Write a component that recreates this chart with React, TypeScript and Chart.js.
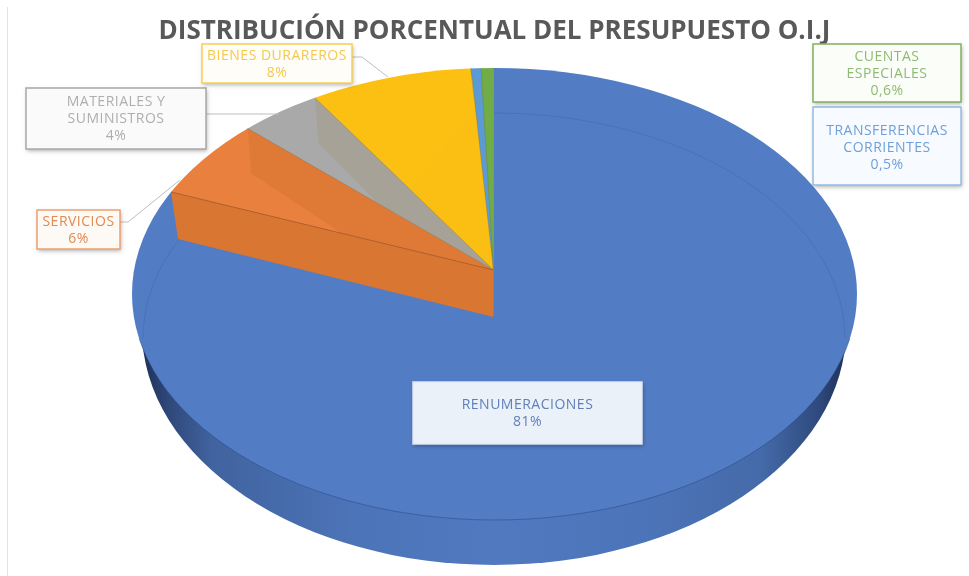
import React, { useEffect, useRef } from "react";
import { Chart, registerables } from "chart.js";

Chart.register(...registerables);

const titleText = "DISTRIBUCIÓN PORCENTUAL DEL PRESUPUESTO O.I.J";
const categories = ["RENUMERACIONES", "SERVICIOS", "MATERIALES Y SUMINISTROS", "BIENES DURAREROS", "TRANSFERENCIAS CORRIENTES", "CUENTAS ESPECIALES"];
const values = [81, 6, 4, 8, 0.5, 0.6];
const percentLabels = ["81%", "6%", "4%", "8%", "0,5%", "0,6%"];
const sliceColors = ["#527cc4", "#e9803d", "#a9a9a9", "#fcc012", "#5b9bd5", "#70ad47"];

const labelLines = [
  ["RENUMERACIONES"],
  ["SERVICIOS"],
  ["MATERIALES Y", "SUMINISTROS"],
  ["BIENES DURAREROS"],
  ["TRANSFERENCIAS", "CORRIENTES"],
  ["CUENTAS", "ESPECIALES"],
];
const labelBoxes = [
  { x: 413, y: 382, w: 229, h: 62, fill: "#ebf1f9", border: "#dfe7f3", text: "#5f7fb8", first: 405 },
  { x: 37, y: 210, w: 83, h: 39, fill: "#fdf9f5", border: "#ee9f6c", text: "#e08a55", first: 222 },
  { x: 26, y: 88, w: 180, h: 61, fill: "#fafafa", border: "#a8a8a8", text: "#aeaeae", first: 102 },
  { x: 202, y: 44, w: 150, h: 39, fill: "#fefdf8", border: "#f7d055", text: "#f5c94e", first: 56 },
  { x: 813, y: 107, w: 148, h: 78, fill: "#f7fbff", border: "#93bce6", text: "#6fa0d8", first: 131 },
  { x: 813, y: 44, w: 148, h: 58, fill: "#fafdf8", border: "#82b05f", text: "#8fbb72", first: 57 },
];
const leaderLines = [
  [[120, 222], [128, 222], [180, 180]],
  [[206, 114], [279, 114]],
  [[352, 57], [362, 57], [388, 77]],
];

// Projection of the tilted pie
const APEX = { x: 493.5, y: 270 };
const TOP = { cx: 494.5, cy: 294, rx: 362.5, ry: 226 };
const BASE = { cx: 494, cy: 330, rx: 352, ry: 235 };
const TILT = 0.62;
const ZOOM = 2.5;
const DEPTH = 47;

function rim(angle: number) {
  const dx = Math.cos(angle);
  const dy = Math.sin(angle) * TILT;
  const ox = (APEX.x - TOP.cx) / TOP.rx;
  const oy = (APEX.y - TOP.cy) / TOP.ry;
  const ax = dx / TOP.rx;
  const ay = dy / TOP.ry;
  const a = ax * ax + ay * ay;
  const b = 2 * (ox * ax + oy * ay);
  const c = ox * ox + oy * oy - 1;
  const t = (-b + Math.sqrt(b * b - 4 * a * c)) / (2 * a);
  return { x: APEX.x + t * dx, y: APEX.y + t * dy };
}

function poly(ctx: CanvasRenderingContext2D, pts: { x: number; y: number }[], fill: string) {
  ctx.beginPath();
  pts.forEach((p, i) => (i ? ctx.lineTo(p.x, p.y) : ctx.moveTo(p.x, p.y)));
  ctx.closePath();
  ctx.fillStyle = fill;
  ctx.fill();
}

const pie3d = {
  id: "pie3d",
  beforeDatasetsDraw(chart: any) {
    const ctx = chart.ctx as CanvasRenderingContext2D;
    // page edge rule
    ctx.fillStyle = "#e4e4e4";
    ctx.fillRect(7, 7, 1, 569);
    // side wall
    const g = ctx.createLinearGradient(BASE.cx - BASE.rx, 0, BASE.cx + BASE.rx, 0);
    g.addColorStop(0, "#1e3157");
    g.addColorStop(0.04, "#30497c");
    g.addColorStop(0.1, "#41639f");
    g.addColorStop(0.3, "#4c74b8");
    g.addColorStop(0.5, "#5079c0");
    g.addColorStop(0.72, "#4c74b8");
    g.addColorStop(0.88, "#456aa9");
    g.addColorStop(0.96, "#2f4a7e");
    g.addColorStop(1, "#1e3157");
    ctx.beginPath();
    ctx.ellipse(BASE.cx, BASE.cy, BASE.rx, BASE.ry, 0, 0, Math.PI * 2);
    ctx.fillStyle = g;
    ctx.fill();
  },
  beforeDatasetDraw(chart: any, args: any) {
    const ctx = chart.ctx as CanvasRenderingContext2D;
    const first = args.meta.data[0];
    ctx.save();
    ctx.beginPath();
    ctx.ellipse(TOP.cx, TOP.cy, TOP.rx, TOP.ry, 0, 0, Math.PI * 2);
    ctx.clip();
    ctx.translate(APEX.x, APEX.y);
    ctx.scale(ZOOM, ZOOM * TILT);
    ctx.translate(-first.x, -first.y);
  },
  afterDatasetDraw(chart: any) {
    chart.ctx.restore();
  },
  afterDatasetsDraw(chart: any) {
    const ctx = chart.ctx as CanvasRenderingContext2D;
    const arcs = chart.getDatasetMeta(0).data;
    const facet = (i: number, fill: string) => {
      const start = rim(arcs[i].startAngle);
      const end = rim(arcs[i].endAngle);
      const inner = {
        x: APEX.x + (start.x - APEX.x) * 0.47,
        y: APEX.y + (start.y - APEX.y) * 0.47,
      };
      poly(ctx, [end, { x: end.x + 3.5, y: end.y + 45 }, inner, APEX], fill);
    };
    facet(1, "#df7a36");
    facet(2, "#a6a297");
    facet(3, "#fbbe13");

    // faint outline of the base seen through the top
    ctx.strokeStyle = "rgba(45,75,130,0.2)";
    ctx.lineWidth = 1;
    ctx.beginPath();
    ctx.ellipse(494, 339, 351, 226, 0, -Math.PI / 2, 0);
    ctx.stroke();
    ctx.beginPath();
    ctx.ellipse(494, 339, 351, 226, 0, Math.PI, Math.PI + 0.46);
    ctx.stroke();

    // seam between top and side
    ctx.strokeStyle = "rgba(35,65,125,0.45)";
    ctx.beginPath();
    ctx.ellipse(TOP.cx, TOP.cy, TOP.rx, TOP.ry, 0, 0.2, Math.PI - 0.2);
    ctx.stroke();

    // cut wall in front of the services slice
    const corner = rim(arcs[1].startAngle);
    poly(ctx, [APEX, corner, { x: corner.x + 7, y: corner.y + DEPTH }, { x: APEX.x, y: APEX.y + DEPTH }], "#d97632");
    ctx.strokeStyle = "rgba(165,90,40,0.8)";
    ctx.beginPath();
    ctx.moveTo(corner.x, corner.y);
    ctx.lineTo(APEX.x, APEX.y);
    ctx.stroke();
    for (let i = 2; i <= 5; i++) {
      const p = rim(arcs[i].startAngle);
      ctx.strokeStyle = "rgba(120,110,70,0.35)";
      ctx.beginPath();
      ctx.moveTo(p.x, p.y);
      ctx.lineTo(APEX.x, APEX.y);
      ctx.stroke();
    }

    // leader lines
    ctx.strokeStyle = "#bdbdbd";
    ctx.lineWidth = 1;
    leaderLines.forEach((line) => {
      ctx.beginPath();
      line.forEach(([x, y], i) => (i ? ctx.lineTo(x, y) : ctx.moveTo(x, y)));
      ctx.stroke();
    });

    // callouts
    categories.forEach((_, i) => {
      const b = labelBoxes[i];
      ctx.save();
      ctx.shadowColor = "rgba(0,0,0,0.3)";
      ctx.shadowBlur = 4;
      ctx.shadowOffsetX = 1;
      ctx.shadowOffsetY = 2;
      ctx.fillStyle = b.fill;
      ctx.fillRect(b.x, b.y, b.w, b.h);
      ctx.restore();
      ctx.strokeStyle = b.border;
      ctx.lineWidth = 1.5;
      ctx.strokeRect(b.x, b.y, b.w, b.h);
      ctx.save();
      ctx.fillStyle = b.text;
      ctx.font = '500 14px "Open Sans"';
      (ctx as any).letterSpacing = "0.5px";
      ctx.textAlign = "center";
      ctx.textBaseline = "middle";
      const cx = b.x + b.w / 2;
      const lines = [...labelLines[i], percentLabels[i]];
      lines.forEach((t, j) => ctx.fillText(t, cx, b.first + j * 17));
      ctx.restore();
    });
  },
};

export default function App() {
  const ref = useRef<HTMLCanvasElement>(null);
  useEffect(() => {
    const chart = new Chart(ref.current!, {
      type: "pie",
      data: {
        labels: categories,
        datasets: [
          {
            data: values,
            backgroundColor: sliceColors,
            borderColor: sliceColors,
            borderWidth: 0.4,
            clip: false,
          } as any,
        ],
      },
      options: {
        responsive: false,
        animation: false,
        layout: { padding: { left: 20 } },
        plugins: {
          legend: { display: false },
          tooltip: { enabled: false },
          title: {
            display: true,
            text: titleText,
            color: "#595959",
            font: { family: '"Open Sans"', size: 26, weight: "bold" },
            padding: { top: 16, bottom: 0 },
          },
        },
      },
      plugins: [pie3d as any],
    });
    return () => chart.destroy();
  }, []);
  return (
    <div style={{ position: "absolute", left: 0, top: 0, width: 969, height: 576, background: "#fff", overflow: "hidden" }}>
      <canvas ref={ref} width={969} height={576} style={{ display: "block" }} />
    </div>
  );
}
